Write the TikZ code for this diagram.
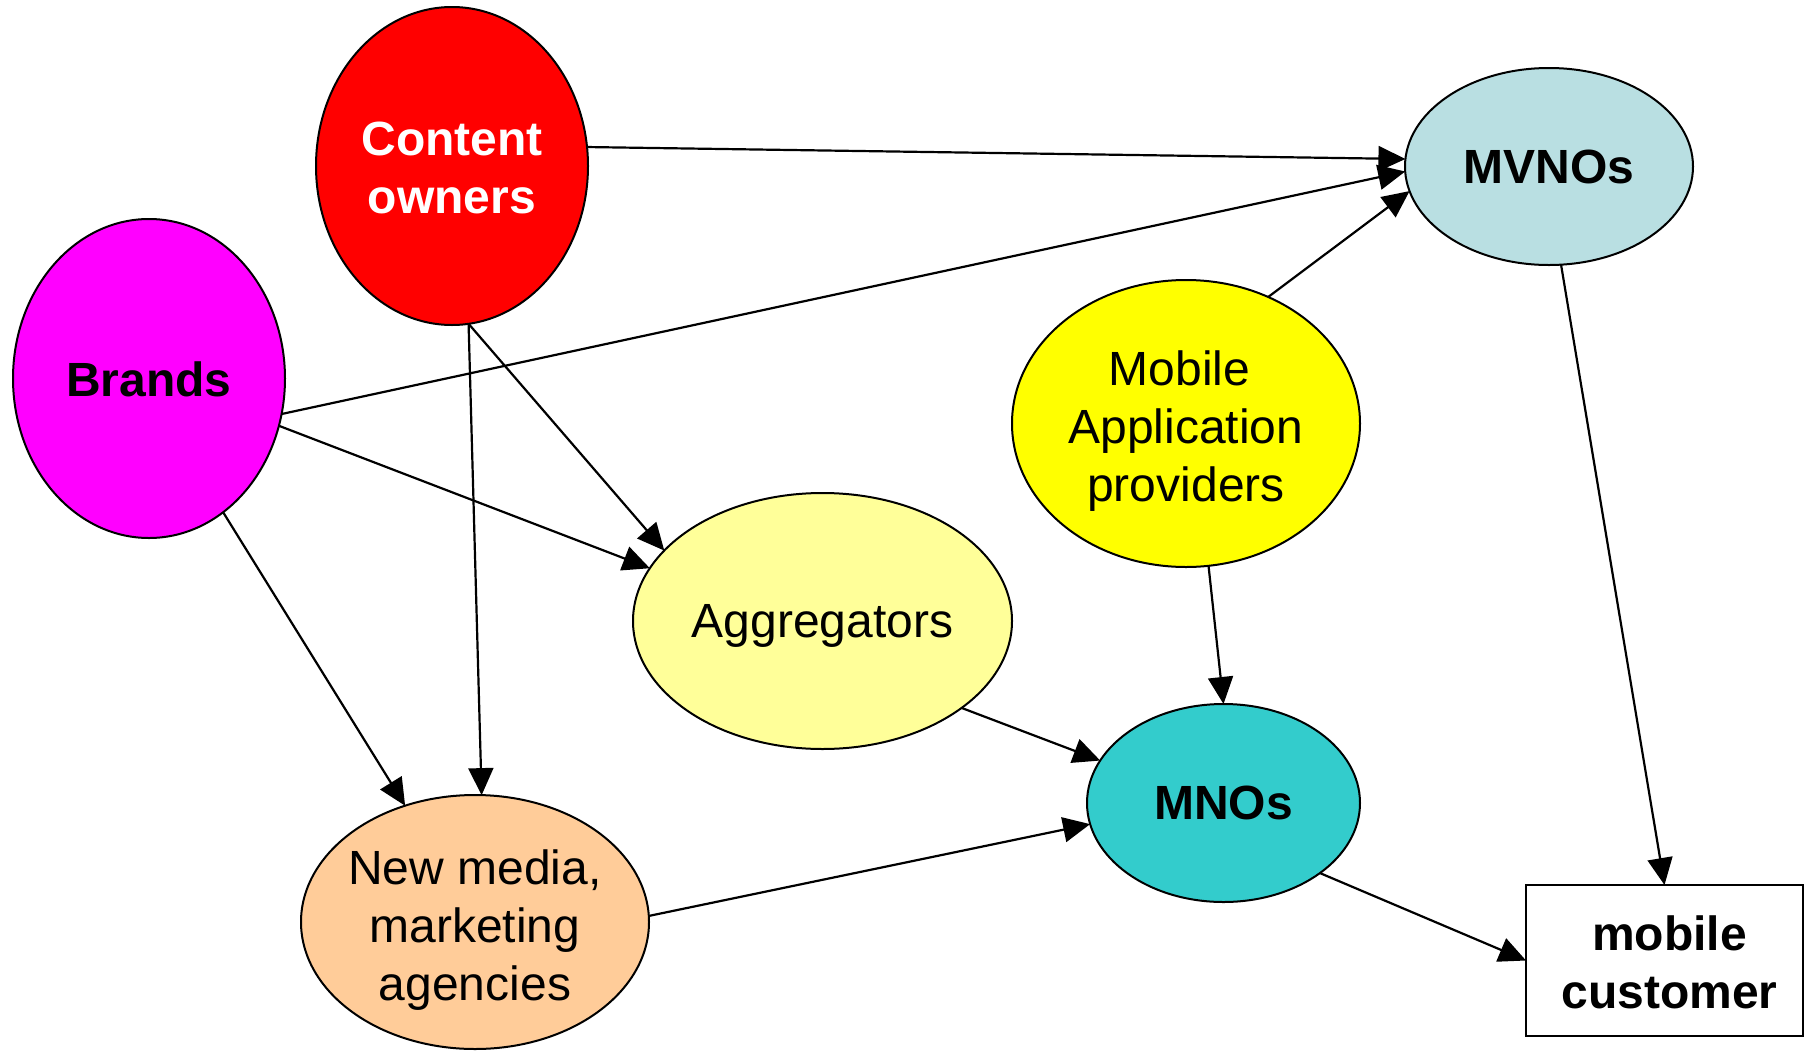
\documentclass[tikz,border=0pt]{standalone}
\usepackage{fontspec}
\setmainfont{Liberation Sans}
\usetikzlibrary{shapes.geometric,arrows.meta}
\definecolor{ownerred}{HTML}{FF0000}
\definecolor{brandpink}{HTML}{FF00FF}
\definecolor{mvnoblue}{HTML}{B9DFE2}
\definecolor{appyellow}{HTML}{FFFF00}
\definecolor{paleyellow}{HTML}{FFFF99}
\definecolor{mnoteal}{HTML}{33CCCC}
\definecolor{peach}{HTML}{FFCC99}
\begin{document}
\begin{tikzpicture}[x=0.5pt,y=-0.5pt,
  actor/.style={ellipse,draw=black,line width=1pt,inner sep=0pt,outer sep=0pt},
  custbox/.style={rectangle,draw=black,line width=1pt,inner sep=0pt,outer sep=0pt,fill=white},
  label/.style={inner sep=0pt,align=center,font=\fontsize{24}{29}\selectfont},
  boldlabel/.style={label,font=\fontsize{24}{29}\selectfont\bfseries},
  link/.style={line width=1.1pt,-{Triangle[length=13.5pt,width=12.5pt]}}]
\useasboundingbox (0,0) rectangle (1805,1050);

% actor shapes
\node[actor,fill=ownerred,minimum width=136pt,minimum height=159pt] (co) at (452,166) {};
\node[actor,fill=brandpink,minimum width=136pt,minimum height=159.5pt] (br) at (149,378.5) {};
\node[actor,fill=mvnoblue,minimum width=144pt,minimum height=98.5pt] (mvno) at (1549,166.5) {};
\node[actor,fill=appyellow,minimum width=174pt,minimum height=143.5pt] (mob) at (1186,423.5) {};
\node[actor,fill=paleyellow,minimum width=189.5pt,minimum height=128pt] (agg) at (822.5,621) {};
\node[actor,fill=mnoteal,minimum width=136.5pt,minimum height=99pt] (mno) at (1223.5,803) {};
\node[actor,fill=peach,minimum width=174pt,minimum height=127pt] (nm) at (475,922) {};
\node[custbox,minimum width=138.5pt,minimum height=75.5pt] (mc) at (1664.5,960.5) {};

% actor names
\node[boldlabel,text=white] (colbl) at ([yshift=-1pt]co.center) {Content\\owners};
\node[boldlabel] (brlbl) at ([yshift=-0.5pt]br.center) {Brands};
\node[boldlabel] (mvnolbl) at (mvno.center) {MVNOs};
\node[label] (moblbl) at ([yshift=-3.8pt]mob.center) {Mobile\rule{6.5pt}{0pt}\\Application\\providers};
\node[label] (agglbl) at ([yshift=-2.3pt]agg.center) {Aggregators};
\node[boldlabel] (mnolbl) at (mno.center) {MNOs};
\node[label] (nmlbl) at ([yshift=-3.8pt]nm.center) {New media,\\marketing\\agencies};
\node[boldlabel] (mclbl) at ([xshift=2.5pt,yshift=-1pt]mc.center) {mobile\\customer};

% value flows
\draw[link] (co.8.8) -- (mvno.177);
\draw[link] (br.-15.8) -- (mvno.-178.5);
\draw[link] (mob.57.6) -- (mvno.-170.8);
\draw[link] (br.-20.4) -- (agg.163);
\draw[link] (co.-84.5) -- (agg.156.5);
\draw[link] (co.-84.6) -- (nm.87);
\draw[link] (br.-61.4) -- (nm.121.6);
\draw[link] (mob.-81) -- (mno.90);
\draw[link] (agg.-32.4) -- (mno.161.8);
\draw[link] (nm.2.3) -- (mno.-171);
\draw[link] (mno.-36) -- (mc.west);
\draw[link] (mvno.-83) -- (mc.north);
\end{tikzpicture}
\end{document}
